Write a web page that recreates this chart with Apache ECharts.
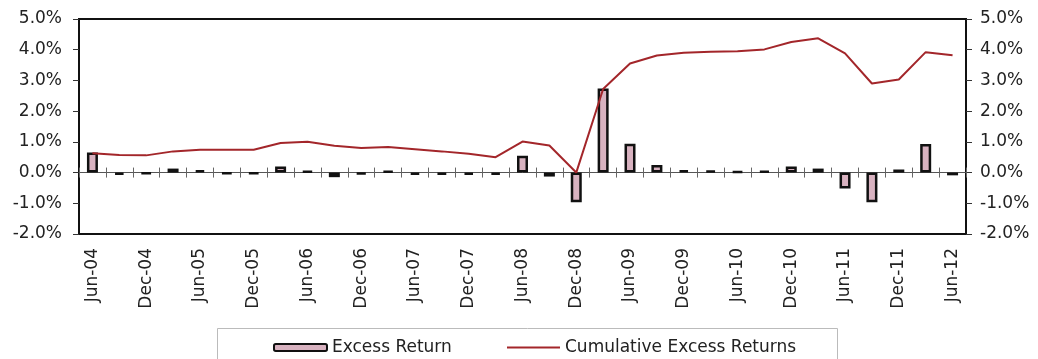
<!DOCTYPE html>
<html>
<head>
<meta charset="utf-8">
<script src="https://cdn.jsdelivr.net/npm/echarts@6/dist/echarts.min.js"></script>
<style>
html,body{margin:0;padding:0;background:#fff;}
#chart{width:1038px;height:359px;}
</style>
</head>
<body>
<div id="chart"></div>
<script>
const categories = ['Jun-04','Sep-04','Dec-04','Mar-05','Jun-05','Sep-05','Dec-05','Mar-06','Jun-06','Sep-06','Dec-06','Mar-07','Jun-07','Sep-07','Dec-07','Mar-08','Jun-08','Sep-08','Dec-08','Mar-09','Jun-09','Sep-09','Dec-09','Mar-10','Jun-10','Sep-10','Dec-10','Mar-11','Jun-11','Sep-11','Dec-11','Mar-12','Jun-12'];
const excessReturn = [0.65,-0.08,-0.04,0.13,0.08,-0.04,-0.04,0.2,0.05,-0.15,-0.06,0.05,-0.08,-0.07,-0.08,-0.08,0.55,-0.13,-0.97,2.74,0.94,0.25,0.08,0.07,0.04,0.06,0.2,0.13,-0.52,-0.97,0.1,0.93,-0.09];
const cumulativeExcess = [0.63,0.57,0.56,0.69,0.74,0.74,0.74,0.96,1.0,0.87,0.8,0.83,0.76,0.69,0.61,0.5,1.01,0.88,0.0,2.72,3.55,3.81,3.9,3.93,3.95,4.01,4.25,4.37,3.88,2.9,3.03,3.92,3.82];
const yTicks = {min:-2, max:5, interval:1};
const font = 'DejaVu Sans';

const chart = echarts.init(document.getElementById('chart'));
const yAxisCommon = {
  type:'value', min:yTicks.min, max:yTicks.max, interval:yTicks.interval,
  splitLine:{show:false},
  axisLine:{show:true, lineStyle:{color:'#111', width:2}},
  axisTick:{show:true, length:6, lineStyle:{color:'#333', width:1}},
  axisLabel:{formatter:v=>v.toFixed(1)+'%', fontSize:17, color:'#222', fontFamily:font}
};
const legendText = {fontSize:17, color:'#222', fontFamily:font};
chart.setOption({
  animation:false,
  graphic:[{type:'rect', shape:{x:217.5, y:328.5, width:620, height:50},
            style:{fill:'#fff', stroke:'#bbb', lineWidth:1}, z:-1}],
  grid:{left:79, right:72, top:19, bottom:125, show:true, borderColor:'#111', borderWidth:2},
  legend:[
    {left:273, top:339, padding:0, itemWidth:53, itemHeight:7,
     textStyle:legendText, data:['Excess Return']},
    {left:507, top:339, padding:0, itemWidth:53, itemHeight:2, icon:'rect',
     textStyle:legendText, data:['Cumulative Excess Returns']}
  ],
  xAxis:[
    {type:'category', data:categories, position:'bottom',
     axisLine:{show:false, onZero:false}, axisTick:{show:false},
     axisLabel:{rotate:90, interval:1, margin:14, fontSize:17, color:'#222', fontFamily:font}},
    {type:'category', data:categories, position:'bottom',
     axisLine:{show:true, onZero:true, onZeroAxisIndex:0, lineStyle:{color:'#555', width:1}},
     axisTick:{show:true, interval:0, length:5, lineStyle:{color:'#666', width:1}},
     axisLabel:{show:false}},
    {type:'category', data:categories, position:'top',
     axisLine:{show:false, onZero:true, onZeroAxisIndex:0},
     axisTick:{show:true, interval:0, length:5, lineStyle:{color:'#666', width:1}},
     axisLabel:{show:false}}
  ],
  yAxis:[
    Object.assign({}, yAxisCommon, {position:'left', axisLabel:Object.assign({}, yAxisCommon.axisLabel, {margin:17})}),
    Object.assign({}, yAxisCommon, {position:'right', axisLabel:Object.assign({}, yAxisCommon.axisLabel, {margin:14})})
  ],
  series:[
    {name:'Excess Return', type:'bar', xAxisIndex:0, yAxisIndex:0, data:excessReturn, barWidth:11,
     itemStyle:{color:'#d8b2c0', borderColor:'#111', borderWidth:2.5}, z:2},
    {name:'Cumulative Excess Returns', type:'line', xAxisIndex:0, yAxisIndex:0, data:cumulativeExcess,
     symbol:'none', lineStyle:{color:'#a3262a', width:2}, itemStyle:{color:'#a3262a'}, z:3}
  ]
});
</script>
</body>
</html>
